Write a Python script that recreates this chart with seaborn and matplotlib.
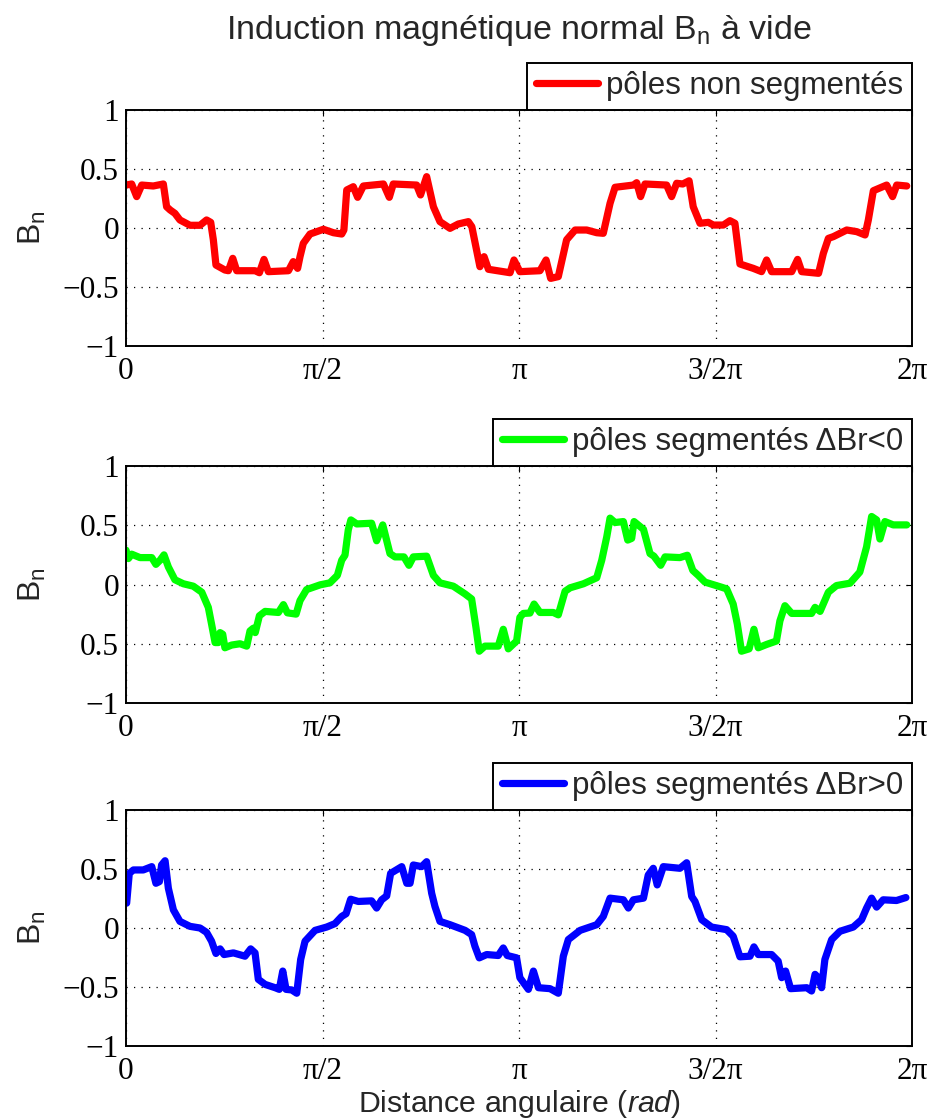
import numpy as np
import pandas as pd
import matplotlib
matplotlib.use("Agg")
import matplotlib.pyplot as plt
import seaborn as sns

# ==============================
# Data (angle in degrees, Bn)
# ==============================
red_deg = [0, 2.6, 4.9, 7.2, 12.5, 17.1, 18.6, 20.2, 22.4, 24.7, 29.3, 33.9, 36.9, 38.8,
           40.0, 41.2, 45.3, 46.9, 48.9, 50.7, 59.1, 61.1, 63.2, 65.2, 74.4, 76.6, 78.6,
           79.7, 81.2, 84.3, 90.4, 95.0, 98.8, 99.8, 101.1, 104.1, 106.1, 108.7, 117.9,
           120.6, 122.4, 133.1, 134.9, 137.7, 140.8, 143.8, 148.4, 152.2, 156.8, 158.4,
           162.1, 164.0, 166.0, 175.9, 177.7, 180.4, 189.6, 192.4, 194.5, 198.0, 201.8,
           205.7, 211.0, 215.6, 218.6, 221.7, 224.0, 232.4, 233.9, 235.7, 237.7, 247.6,
           249.9, 252.2, 255.0, 257.9, 259.8, 262.9, 266.7, 269.0, 273.6, 276.6, 278.9,
           281.2, 287.3, 291.1, 293.4, 295.7, 304.9, 307.6, 309.5, 317.2, 319.4, 321.7,
           324.0, 330.1, 334.7, 338.5, 340.0, 342.3, 348.4, 351.1, 353.0, 357.6]
red_bn = [0.364, 0.373, 0.266, 0.364, 0.356, 0.373, 0.18, 0.153, 0.124, 0.068, 0.023, 0.023,
          0.068, 0.048, -0.10, -0.314, -0.356, -0.362, -0.257, -0.362, -0.362, -0.379,
          -0.266, -0.37, -0.362, -0.285, -0.342, -0.243, -0.13, -0.051, -0.011, -0.04,
          -0.051, -0.017, 0.322, 0.35, 0.26, 0.356, 0.373, 0.26, 0.373, 0.364, 0.28, 0.435,
          0.18, 0.054, -0.003, 0.034, 0.054, 0.011, -0.328, -0.243, -0.35, -0.379, -0.271,
          -0.37, -0.362, -0.271, -0.427, -0.412, -0.10, -0.017, -0.017, -0.04, -0.045,
          0.209, 0.345, 0.364, 0.384, 0.266, 0.373, 0.364, 0.266, 0.379, 0.373, 0.40, 0.18,
          0.04, 0.048, 0.025, 0.025, 0.062, 0.04, -0.305, -0.342, -0.37, -0.271, -0.37,
          -0.37, -0.266, -0.37, -0.384, -0.215, -0.088, -0.073, -0.017, -0.031, -0.059,
          0.068, 0.316, 0.364, 0.266, 0.364, 0.356]

green_deg = [0, 1.1, 2.6, 6.4, 11.8, 13.7, 15.6, 17.4, 19.4, 22.4, 26.3, 30.8, 34.7, 37.7,
             39.2, 40.8, 42.3, 43.1, 44.3, 45.3, 48.4, 52.2, 55.3, 56.8, 58.3, 59.2, 61.1,
             63.7, 69.8, 72.1, 73.9, 77.9, 79.7, 82.7, 88.9, 93.4, 96.8, 98.8, 100.3, 101.8,
             103.0, 105.7, 112.5, 114.8, 117.6, 120.9, 123.2, 127.3, 129.6, 131.6, 137.7,
             140.8, 143.8, 149.9, 155.3, 158.3, 160.3, 161.8, 164.4, 170.5, 172.8, 175.1,
             178.9, 180.4, 182.0, 185.0, 186.9, 189.6, 195.7, 198.0, 201.1, 203.4, 209.5,
             215.6, 217.9, 220.2, 221.7, 224.0, 227.8, 229.8, 231.6, 232.7, 237.0, 240.0,
             241.8, 244.9, 246.9, 253.7, 257.1, 259.6, 262.1, 265.2, 272.8, 275.1, 278.1,
             280.0, 281.9, 285.4, 287.6, 289.6, 293.4, 297.9, 299.5, 301.8, 304.9, 314.0,
             315.6, 317.9, 321.7, 325.4, 331.6, 336.1, 339.2, 341.5, 343.8, 345.3, 347.6,
             351.4, 357.6]
green_bn = [0.29, 0.219, 0.256, 0.227, 0.227, 0.17, 0.205, 0.25, 0.148, 0.04, 0.006, -0.014,
            -0.065, -0.193, -0.335, -0.49, -0.49, -0.406, -0.42, -0.534, -0.511, -0.5,
            -0.52, -0.392, -0.369, -0.406, -0.264, -0.227, -0.236, -0.17, -0.239, -0.25,
            -0.136, -0.043, -0.003, 0.014, 0.077, 0.205, 0.247, 0.46, 0.545, 0.511, 0.517,
            0.369, 0.503, 0.261, 0.233, 0.233, 0.162, 0.233, 0.239, 0.077, 0.014, -0.014,
            -0.08, -0.122, -0.364, -0.563, -0.52, -0.52, -0.378, -0.543, -0.477, -0.278,
            -0.244, -0.241, -0.165, -0.236, -0.236, -0.256, -0.057, -0.028, 0.006, 0.057,
            0.205, 0.403, 0.56, 0.523, 0.531, 0.375, 0.389, 0.531, 0.466, 0.261, 0.239,
            0.162, 0.233, 0.227, 0.247, 0.119, 0.077, 0.02, -0.023, -0.037, -0.165, -0.335,
            -0.563, -0.543, -0.378, -0.534, -0.506, -0.477, -0.307, -0.179, -0.244, -0.244,
            -0.193, -0.227, -0.065, -0.009, 0.011, 0.105, 0.318, 0.574, 0.545, 0.384, 0.531,
            0.503, 0.503]

blue_deg = [0.3, 1.5, 3.4, 7.9, 11.8, 13.7, 15.3, 16.3, 17.9, 19.4, 21.7, 24.7, 29.3, 33.9,
            36.9, 39.2, 41.2, 43.1, 44.9, 49.2, 54.5, 57.1, 59.1, 60.6, 63.7, 68.3, 70.2,
            71.8, 73.3, 75.9, 78.2, 80.0, 82.0, 86.6, 91.9, 95.7, 98.8, 100.8, 102.9, 106.4,
            112.5, 114.8, 117.1, 119.4, 121.2, 126.3, 128.6, 130.1, 131.6, 135.4, 137.7,
            140.0, 141.5, 143.8, 148.4, 155.3, 158.3, 159.8, 161.8, 165.2, 170.5, 172.8,
            174.6, 178.9, 180.4, 184.3, 186.6, 188.9, 194.2, 198.0, 200.3, 202.6, 208.0,
            215.6, 218.6, 221.7, 227.8, 230.1, 232.4, 237.0, 239.2, 241.5, 243.3, 246.1,
            253.7, 256.8, 259.1, 260.6, 263.7, 268.2, 275.1, 278.1, 281.2, 285.8, 287.6,
            289.6, 295.7, 298.7, 300.3, 302.1, 304.4, 311.8, 314.0, 315.6, 317.1, 318.6,
            320.1, 323.2, 327.0, 333.1, 336.9, 339.2, 341.5, 343.8, 346.8, 352.9, 357.2]
blue_bn = [0.211, 0.463, 0.492, 0.492, 0.52, 0.379, 0.393, 0.534, 0.57, 0.337, 0.154, 0.056,
           0.014, 0.0, -0.037, -0.112, -0.216, -0.177, -0.225, -0.211, -0.239, -0.177,
           -0.211, -0.435, -0.478, -0.506, -0.52, -0.365, -0.52, -0.525, -0.553, -0.267,
           -0.112, -0.02, 0.008, 0.037, 0.098, 0.121, 0.244, 0.225, 0.23, 0.169, 0.239,
           0.272, 0.463, 0.52, 0.379, 0.379, 0.534, 0.52, 0.562, 0.295, 0.183, 0.056, 0.028,
           -0.02, -0.056, -0.154, -0.253, -0.225, -0.233, -0.169, -0.233, -0.253, -0.421,
           -0.52, -0.365, -0.506, -0.514, -0.553, -0.239, -0.098, -0.02, 0.028, 0.098,
           0.253, 0.239, 0.169, 0.239, 0.253, 0.449, 0.506, 0.365, 0.52, 0.506, 0.553,
           0.267, 0.225, 0.07, 0.008, -0.014, -0.07, -0.244, -0.239, -0.16, -0.225, -0.225,
           -0.281, -0.421, -0.365, -0.514, -0.506, -0.534, -0.393, -0.421, -0.506, -0.267,
           -0.098, -0.028, 0.008, 0.07, 0.169, 0.253, 0.177, 0.239, 0.233, 0.258]

labels = ["pôles non segmentés", "pôles segmentés \u0394Br<0", "pôles segmentés \u0394Br>0"]
colors = ["#ff0000", "#00ff00", "#0000ff"]

xtick_vals = [0, np.pi / 2, np.pi, 3 * np.pi / 2, 2 * np.pi]
xtick_labels = ["0", "\u03c0/2", "\u03c0", "3/2\u03c0", "2\u03c0"]
ytick_vals = [-1, -0.5, 0, 0.5, 1]
ytick_labels_std = ["\u22121", "\u22120.5", "0", "0.5", "1"]
ytick_labels_mid = ["\u22121", "0.5", "0", "0.5", "1"]   # as printed in the original

# ==============================
# Style
# ==============================
sns.set_theme(style="white")
plt.rcParams["font.family"] = ["Liberation Sans", "DejaVu Sans"]
plt.rcParams["mathtext.fontset"] = "custom"
plt.rcParams["mathtext.rm"] = "Liberation Sans"
plt.rcParams["mathtext.it"] = "Liberation Sans:italic"
plt.rcParams["axes.edgecolor"] = "black"
plt.rcParams["axes.linewidth"] = 1.4

fig = plt.figure(figsize=(9.3, 11.2), dpi=100)

W, H = 930, 1120
boxes = [(110, 346), (466, 703), (810, 1046)]
x0, x1 = 126, 912

series = [(red_deg, red_bn), (green_deg, green_bn), (blue_deg, blue_bn)]
yt_labels = [ytick_labels_std, ytick_labels_mid, ytick_labels_std]

axes = []
for i, ((top, bot), (deg, bn)) in enumerate(zip(boxes, series)):
    ax = fig.add_axes([x0 / W, 1 - bot / H, (x1 - x0) / W, (bot - top) / H])
    df = pd.DataFrame({"theta": np.deg2rad(deg), "Bn": bn})
    sns.lineplot(data=df, x="theta", y="Bn", ax=ax, color=colors[i], lw=5.2,
                 sort=False, estimator=None, label=labels[i],
                 solid_joinstyle="round", solid_capstyle="round")
    ax.set_xlim(0, 2 * np.pi)
    ax.set_ylim(-1, 1)
    ax.set_xticks(xtick_vals)
    ax.set_xticklabels(xtick_labels)
    ax.set_yticks(ytick_vals)
    ax.set_yticklabels(yt_labels[i])
    ax.tick_params(direction="in", length=4, width=0.8, top=True, right=True,
                   labelsize=22.5, labelfontfamily="Liberation Serif", colors="black")
    ax.tick_params(axis="x", pad=8)
    ax.tick_params(axis="y", pad=5)
    ax.grid(True, linestyle=(0, (1, 5)), color="black", linewidth=0.9)
    ax.set_xlabel("")
    ax.set_ylabel(r"B$_\mathrm{n}$", fontsize=23)
    ax.yaxis.set_label_coords((48 - x0) / (x1 - x0), 0.5)
    for sp in ax.spines.values():
        sp.set_visible(True)
        sp.set_color("black")
    leg = ax.legend(loc="lower right", bbox_to_anchor=(1, 1), borderaxespad=0,
                    fontsize=22.5, frameon=True, fancybox=False, framealpha=1,
                    edgecolor="black", handlelength=2.0, handletextpad=0.25,
                    borderpad=0.28)
    leg.get_frame().set_linewidth(1.4)
    axes.append(ax)

axes[-1].set_xlabel(r"Distance angulaire $\mathit{(rad)}$", fontsize=21.8, labelpad=1.5)

fig.text((x0 + x1) / 2 / W, 1 - 30 / H, r"Induction magnétique normal B$_\mathrm{n}$ à vide",
         ha="center", va="center", fontsize=24.5)

fig.savefig("out.png", dpi=100)
